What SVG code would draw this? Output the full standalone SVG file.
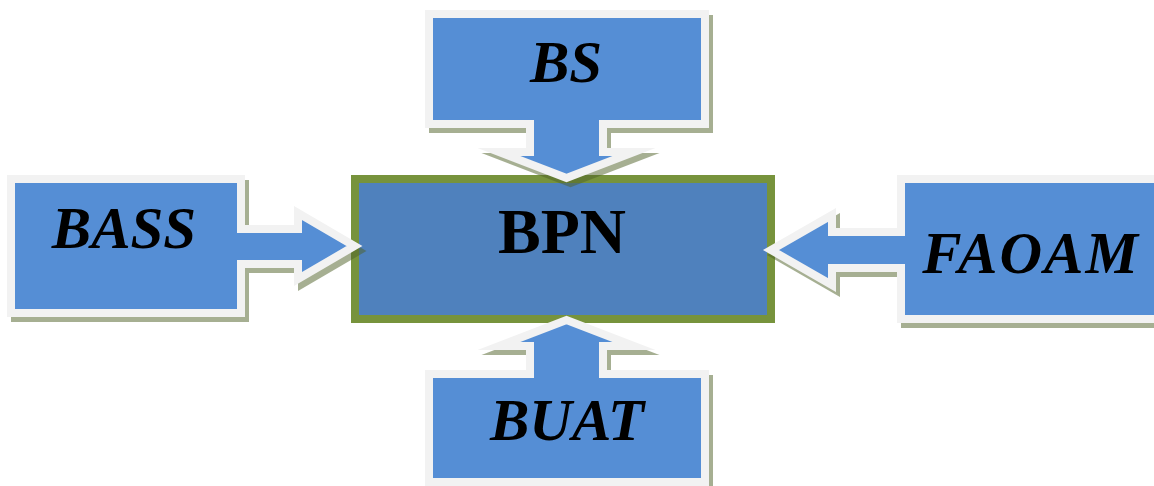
<svg xmlns="http://www.w3.org/2000/svg" xmlns:xlink="http://www.w3.org/1999/xlink" width="1154" height="486" viewBox="0 0 1154 486">
  <style>
    .callout { fill: #558ED5; stroke: #F2F2F2; stroke-width: 8; stroke-linejoin: miter; stroke-miterlimit: 10; }
    .shadow { fill: #4F6228; stroke: #4F6228; stroke-width: 8; stroke-linejoin: miter; stroke-miterlimit: 10; }
    .lbl { font-family: "Liberation Serif", "Times New Roman", serif; font-weight: bold; font-style: italic; font-size: 59px; fill: #000000; text-anchor: middle; }
    .main { font-family: "Liberation Serif", "Times New Roman", serif; font-weight: bold; font-size: 64px; fill: #000000; text-anchor: middle; }
  </style>
  <defs>
    <path id="p-bs" d="M429,14 H705 V124 H603 V152 H634 L566.5,178 L499,152 H530 V124 H429 Z"/>
    <path id="p-buat" d="M429,482 H705 V374 H603 V346 H634 L566.5,320 L499,346 H530 V374 H429 Z"/>
    <path id="p-bass" d="M11,179 H241 V229 H298 V213 L354.5,246 L298,279 V264 H241 V313 H11 Z"/>
    <path id="p-faoam" d="M1165,179 H901 V232 H832 V215 L771,250 L832,285 V268 H901 V319 H1165 Z"/>
  </defs>
  <rect width="1154" height="486" fill="#FFFFFF"/>

  <g id="BPN">
    <rect x="358" y="183" width="416" height="140" fill="#1F3864" opacity="0.45"/>
    <rect x="355" y="179" width="416" height="140" fill="#4F81BD" stroke="#77933C" stroke-width="8"/>
    <text class="main" x="562" y="253">BPN</text>
  </g>

  <g id="BS">
    <g opacity="0.5"><use xlink:href="#p-bs" class="shadow" transform="translate(4,5)"/></g>
    <use xlink:href="#p-bs" class="callout"/>
    <text class="lbl" x="566" y="82">BS</text>
  </g>

  <g id="BUAT">
    <g opacity="0.5"><use xlink:href="#p-buat" class="shadow" transform="translate(4,5)"/></g>
    <use xlink:href="#p-buat" class="callout"/>
    <text class="lbl" x="567" y="440">BUAT</text>
  </g>

  <g id="BASS">
    <g opacity="0.5"><use xlink:href="#p-bass" class="shadow" transform="translate(4,5)"/></g>
    <use xlink:href="#p-bass" class="callout"/>
    <text class="lbl" x="124" y="248">BASS</text>
  </g>

  <g id="FAOAM">
    <g opacity="0.5"><use xlink:href="#p-faoam" class="shadow" transform="translate(4,5)"/></g>
    <use xlink:href="#p-faoam" class="callout"/>
    <text class="lbl" x="1031" y="273" letter-spacing="2">FAOAM</text>
  </g>
</svg>
